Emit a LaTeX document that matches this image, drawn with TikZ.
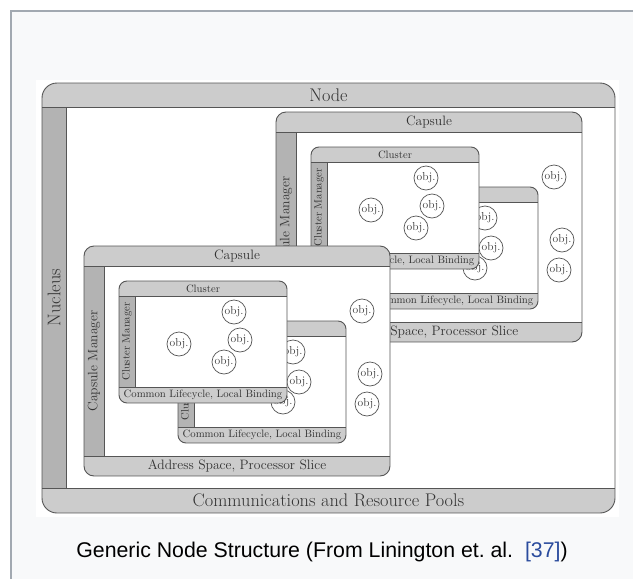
\documentclass[tikz,border=0pt]{standalone}
\usepackage{fontspec}
\newfontfamily\capfont{Liberation Sans}
\definecolor{bandlight}{HTML}{CCCCCC}
\definecolor{banddark}{HTML}{B3B3B3}
\definecolor{edgecol}{HTML}{555555}
\definecolor{txtcol}{HTML}{333333}
\definecolor{framebg}{HTML}{F8F9FA}
\definecolor{frameline}{HTML}{A2A9B1}
\definecolor{linkblue}{HTML}{2A4B9D}
\tikzset{
  boxedge/.style={draw=edgecol, line width=0.9pt},
  sepline/.style={draw=edgecol, line width=0.9pt},
  lbl/.style={inner sep=0pt, text=txtcol},
  nodelbl/.style={lbl, font=\fontsize{18.3}{20}\selectfont},
  caplbl/.style={lbl, font=\fontsize{13.6}{15}\selectfont},
  clulbl/.style={lbl, font=\fontsize{10.7}{12}\selectfont},
  objnode/.style={circle, draw=edgecol, line width=0.7pt, fill=white,
    minimum size=24pt, inner sep=0pt, text=txtcol,
    font=\fontsize{11.5}{12}\selectfont},
}
% x1 y1 x2 y2 radius top-h bottom-h left-w
\newcommand\layeredbox[8]{%
  \fill[white, rounded corners=#5] (#1,#2) rectangle (#3,#4);
  \begin{scope}
    \clip[rounded corners=#5] (#1,#2) rectangle (#3,#4);
    \fill[bandlight] (#1,#2) rectangle (#3,#2+#6);
    \fill[bandlight] (#1,#4-#7) rectangle (#3,#4);
    \fill[banddark] (#1,#2+#6) rectangle (#1+#8,#4-#7);
  \end{scope}
  \draw[sepline] (#1,#2+#6) -- (#3,#2+#6);
  \draw[sepline] (#1,#4-#7) -- (#3,#4-#7);
  \draw[sepline] (#1+#8,#2+#6) -- (#1+#8,#4-#7);
  \draw[boxedge, rounded corners=#5] (#1,#2) rectangle (#3,#4);
}
\newcommand\drawcluster[3]{%
  \layeredbox{#2}{#3}{#2+168}{#3+122}{8pt}{15}{16}{16}
  \node[clulbl] (#1title) at (#2+84,#3+7.5) {Cluster};
  \node[clulbl] (#1bottom) at (#2+84,#3+114) {Common Lifecycle, Local Binding};
  \node[clulbl, rotate=90] (#1mgr) at (#2+8,#3+60.5) {Cluster Manager};
}
\newcommand\drawcapsule[3]{%
  \begin{scope}[shift={(#2,#3)}]
    \layeredbox{0}{0}{306}{230}{10pt}{20}{20}{20}
    \node[caplbl] (#1title) at (153,10) {Capsule};
    \node[caplbl] (#1bottom) at (153,220) {Address Space, Processor Slice};
    \node[caplbl, rotate=90] (#1mgr) at (10,115) {Capsule Manager};
    \drawcluster{#1b}{94}{75}
    \node[objnode] (#1ob1) at (209,106) {obj.};
    \node[objnode] (#1ob2) at (215,136) {obj.};
    \node[objnode] (#1ob3) at (199,156) {obj.};
    \drawcluster{#1f}{35}{35}
    \node[objnode] (#1of1) at (150,66) {obj.};
    \node[objnode] (#1of2) at (95,98) {obj.};
    \node[objnode] (#1of3) at (156,94) {obj.};
    \node[objnode] (#1of4) at (140,116) {obj.};
    \node[objnode] (#1oc1) at (278,65) {obj.};
    \node[objnode] (#1oc2) at (286,128) {obj.};
    \node[objnode] (#1oc3) at (283,158) {obj.};
  \end{scope}
}
\begin{document}
\begin{tikzpicture}[x=1pt, y=-1pt]
  \useasboundingbox (0,0) rectangle (633,579);
  \fill[white] (0,0) rectangle (633,579);
  \fill[framebg] (10,10) rectangle (633,579);
  \draw[frameline, line width=2pt] (11,579) -- (11,11) -- (633,11);
  \fill[white] (36,80) rectangle (619,517);
  % Node
  \layeredbox{42}{83}{615}{513}{15pt}{24}{25}{24}
  \node[nodelbl] (nodetitle) at (328.5,95.5) {Node};
  \node[nodelbl] (nodebottom) at (328.5,500.5) {Communications and Resource Pools};
  \node[nodelbl, rotate=90] (nucleus) at (54,297.5) {Nucleus};
  % Capsules
  \drawcapsule{ca}{276}{112}
  \drawcapsule{cb}{84}{246}
  % caption
  \node[inner sep=0pt, font=\capfont\fontsize{21.3}{24}\selectfont] (caption) at (322,552)
    {Generic Node Structure (From Linington et.\ al.\ \ \textcolor{linkblue}{[37]})};
\end{tikzpicture}
\end{document}
